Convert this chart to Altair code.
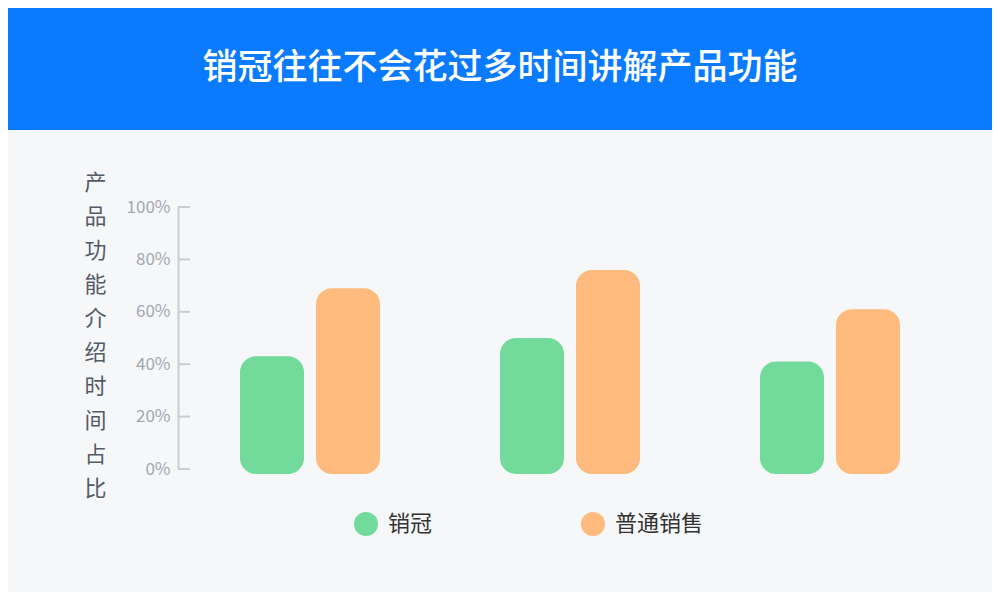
import altair as alt
import pandas as pd

TITLE = "销冠往往不会花过多时间讲解产品功能"
GROUPS = ["第一组", "第二组", "第三组"]
SERIES = ["销冠", "普通销售"]
TOP_SALES = [43, 50, 41]
NORMAL_SALES = [69, 76, 61]
TICKS = [0, 20, 40, 60, 80, 100]
Y_TITLE = list("产品功能介绍时间占比")
COLORS = ["#72DA9A", "#FFBA7E"]

FONT = "Noto Sans CJK SC"

rows = []
for g, a, b in zip(GROUPS, TOP_SALES, NORMAL_SALES):
    rows.append({"group": g, "series": SERIES[0], "value": a})
    rows.append({"group": g, "series": SERIES[1], "value": b})
df = pd.DataFrame(rows)

yscale = alt.Scale(domain=[0, 100], clamp=False, nice=False)

bars = alt.Chart(df).mark_bar(cornerRadius=16).encode(
    x=alt.X("group:N", sort=GROUPS, axis=None,
            scale=alt.Scale(paddingInner=0, paddingOuter=0)),
    xOffset=alt.XOffset("series:N", sort=SERIES,
                        scale=alt.Scale(paddingInner=0.158, paddingOuter=0.789)),
    y=alt.Y("value:Q", scale=yscale,
            axis=alt.Axis(values=TICKS, labelExpr="datum.value + '%'",
                          ticks=False, grid=False, domainColor="#C9CCD1",
                          domainWidth=2, labelColor="#A3A7AE", labelFontSize=17,
                          labelFont=FONT, labelPadding=8, offset=2,
                          title=Y_TITLE, titleAngle=0, titleX=-83, titleY=-35,
                          titleAlign="center", titleBaseline="top",
                          titleLineHeight=34, titleFontSize=22,
                          titleFont=FONT, titleFontWeight="normal",
                          titleColor="#555B66")),
    y2=alt.datum(-1.9),
    color=alt.Color("series:N", sort=SERIES,
                    scale=alt.Scale(domain=SERIES, range=COLORS),
                    legend=alt.Legend(title=None, orient="none", legendX=174,
                                      legendY=305, direction="horizontal",
                                      symbolType="circle", symbolSize=576,
                                      symbolStrokeWidth=0, symbolOpacity=1,
                                      labelFontSize=22, labelFont=FONT,
                                      labelColor="#333333", labelOffset=10,
                                      columnPadding=148, padding=0)),
)

tick_df = pd.DataFrame({"t": TICKS})
ticks = alt.Chart(tick_df).mark_rule(color="#C9CCD1", strokeWidth=2).encode(
    y=alt.Y("t:Q", scale=yscale),
    x=alt.value(-2),
    x2=alt.value(10),
)

title_df = pd.DataFrame({"t": [TITLE]})
banner = alt.Chart(title_df).mark_rect(color="#0A7BFF").encode(
    x=alt.value(-172), x2=alt.value(812), y=alt.value(-199), y2=alt.value(-77)
)
title = alt.Chart(title_df).mark_text(
    color="white", fontSize=35, font=FONT, fontWeight=500,
    align="center", baseline="middle"
).encode(text="t:N", x=alt.value(320), y=alt.value(-139))

chart = alt.layer(banner, title, ticks, bars).properties(
    width=780, height=262,
    background="#F5F7F9",
    padding={"left": 172, "top": 199, "right": 32, "bottom": 123},
    autosize=alt.AutoSizeParams(type="none"),
).configure_view(stroke=None)

chart.save("out.html", embed_options={"renderer": "svg", "actions": False})
